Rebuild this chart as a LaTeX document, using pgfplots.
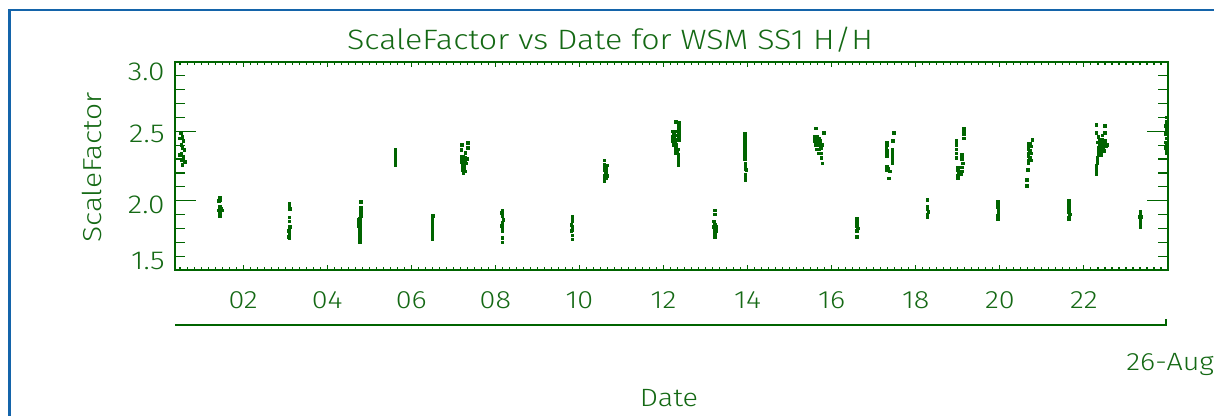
\documentclass[border=0pt]{standalone}
\usepackage{fontspec}
\setmainfont{Fira Sans}[UprightFont=* Light, FakeStretch=1.15]
\usepackage{pgfplots}
\pgfplotsset{compat=1.18}
\definecolor{idlgreen}{RGB}{0,100,0}
\definecolor{txtgreen}{RGB}{20,105,20}
\definecolor{frameblue}{RGB}{20,100,170}
\begin{document}
\begin{tikzpicture}[x=0.5pt,y=0.5pt]
\path[use as bounding box] (0,0) rectangle (1214,416);
\fill[white] (0,0) rectangle (1214,416);
\draw[frameblue, line width=1.25pt] (9.5,0) -- (9.5,406) -- (1214,406);

% x ticks and labels
\begin{axis}[
  at={(87.5pt,73pt)}, anchor=south west,
  scale only axis, width=496.5pt, height=104pt,
  xmin=0.38, xmax=24, ymin=1.5, ymax=3.0,
  axis line style={draw=none},
  ytick=\empty,
  xtick={2,4,...,24},
  xticklabels={02,04,06,08,10,12,14,16,18,20,22,{}},
  minor xtick={0.5,0.666667,...,24},
  major tick length=2.6pt, minor tick length=1.5pt,
  tick style={idlgreen, line width=0.55pt},
  xticklabel style={anchor=center, yshift=-15pt, font=\fontsize{12.5}{14}\selectfont, text=txtgreen},
]
\end{axis}

\begin{axis}[
  at={(87.5pt,73pt)}, anchor=south west,
  scale only axis, width=496.5pt, height=104pt,
  xmin=0.38, xmax=24, ymin=1.5, ymax=3.0,
  axis line style={idlgreen, line width=1pt},
  xtick=\empty,
  ytick={1.5,2.0,2.5,3.0}, minor y tick num=4,
  yticklabels={},
  major tick length=10.5pt, minor tick length=5pt,
  tick style={idlgreen, line width=0.6pt},
]
\addplot[only marks, mark=square*, mark size=0.65pt, idlgreen, mark options={draw=none, fill=idlgreen}] coordinates {
(0.52,2.49)(0.56,2.46)(0.58,2.43)(0.53,2.40)(0.56,2.38)(0.60,2.365)(0.53,2.34)(0.58,2.32)(0.54,2.29)(0.61,2.28)(0.56,2.26)(0.50,2.45)(0.50,2.33)
(1.45,2.02)(1.45,2.005)(1.43,2.00)(1.45,1.96)(1.45,1.95)(1.47,1.94)(1.43,1.93)(1.45,1.93)(1.49,1.93)(1.45,1.92)(1.45,1.91)(1.45,1.90)(1.45,1.89)
(3.10,1.98)(3.10,1.96)(3.10,1.95)(3.12,1.94)(3.10,1.88)(3.10,1.85)(3.12,1.81)(3.10,1.80)(3.10,1.79)(3.08,1.78)(3.10,1.77)(3.10,1.76)(3.10,1.75)(3.08,1.74)(3.10,1.73)
(4.80,1.99)(4.80,1.95)(4.80,1.93)(4.80,1.91)(4.80,1.89)(4.78,1.87)(4.76,1.86)(4.78,1.85)(4.76,1.84)(4.78,1.83)(4.76,1.82)(4.78,1.81)(4.78,1.79)(4.78,1.77)(4.78,1.75)(4.78,1.73)(4.78,1.71)(4.78,1.70)
(5.62,2.365)(5.62,2.345)(5.62,2.32)(5.62,2.30)(5.62,2.28)(5.62,2.26)
(6.52,1.89)(6.50,1.87)(6.50,1.85)(6.50,1.83)(6.50,1.81)(6.50,1.79)(6.50,1.77)(6.50,1.75)(6.50,1.73)(6.50,1.72)
(7.21,2.40)(7.34,2.415)(7.19,2.365)(7.34,2.38)(7.29,2.345)(7.20,2.32)(7.24,2.32)(7.20,2.30)(7.24,2.30)(7.28,2.31)(7.32,2.30)(7.20,2.28)(7.24,2.28)(7.28,2.28)(7.22,2.26)(7.26,2.26)(7.30,2.27)(7.22,2.24)(7.26,2.24)(7.22,2.22)(7.26,2.22)(7.24,2.20)(7.28,2.21)
(8.17,1.93)(8.15,1.91)(8.17,1.89)(8.19,1.86)(8.17,1.84)(8.15,1.82)(8.17,1.80)(8.17,1.78)(8.17,1.73)(8.17,1.70)
(9.83,1.885)(9.83,1.87)(9.83,1.85)(9.81,1.825)(9.83,1.81)(9.83,1.79)(9.81,1.78)(9.83,1.75)(9.83,1.72)
(10.59,2.29)(10.59,2.26)(10.65,2.255)(10.59,2.24)(10.63,2.23)(10.59,2.22)(10.63,2.20)(10.61,2.18)(10.65,2.18)(10.59,2.16)(10.63,2.16)(10.59,2.14)
(12.30,2.57)(12.36,2.56)(12.37,2.54)(12.37,2.52)(12.37,2.50)(12.37,2.48)(12.37,2.46)(12.37,2.44)(12.22,2.50)(12.27,2.50)(12.24,2.48)(12.28,2.47)(12.22,2.46)(12.26,2.45)(12.30,2.44)(12.22,2.43)(12.27,2.42)(12.24,2.40)(12.30,2.40)(12.30,2.38)(12.34,2.37)(12.28,2.36)(12.33,2.35)(12.30,2.34)(12.35,2.33)(12.35,2.31)(12.35,2.29)(12.35,2.27)(12.35,2.26)
(13.93,2.48)(13.93,2.46)(13.93,2.44)(13.93,2.42)(13.93,2.40)(13.93,2.38)(13.93,2.36)(13.93,2.34)(13.93,2.32)(13.93,2.30)(13.95,2.27)(13.95,2.25)(13.95,2.23)(13.97,2.22)(13.95,2.19)(13.95,2.17)(13.95,2.15)
(13.22,1.93)(13.22,1.90)(13.20,1.85)(13.22,1.83)(13.24,1.81)(13.20,1.81)(13.22,1.79)(13.24,1.78)(13.22,1.76)(13.22,1.74)
(15.62,2.52)(15.81,2.49)(15.60,2.46)(15.65,2.46)(15.70,2.45)(15.60,2.43)(15.65,2.43)(15.72,2.43)(15.62,2.40)(15.67,2.40)(15.72,2.40)(15.77,2.40)(15.65,2.37)(15.70,2.37)(15.75,2.38)(15.70,2.34)(15.75,2.34)(15.76,2.31)(15.78,2.27)
(16.60,1.87)(16.60,1.84)(16.60,1.82)(16.62,1.80)(16.60,1.78)(16.60,1.74)
(17.48,2.49)(17.46,2.43)(17.32,2.42)(17.32,2.40)(17.30,2.38)(17.32,2.36)(17.32,2.34)(17.32,2.32)(17.44,2.37)(17.44,2.35)(17.44,2.33)(17.44,2.31)(17.44,2.29)(17.44,2.27)(17.32,2.245)(17.35,2.23)(17.30,2.22)(17.38,2.21)(17.36,2.16)
(18.28,2.005)(18.28,1.96)(18.28,1.94)(18.30,1.92)(18.28,1.90)(18.28,1.88)
(19.14,2.52)(19.14,2.50)(19.16,2.50)(19.14,2.48)(19.14,2.45)(18.97,2.43)(18.97,2.40)(18.97,2.37)(18.97,2.34)(18.97,2.31)(19.10,2.33)(19.10,2.30)(19.12,2.27)(19.10,2.24)(19.10,2.21)(19.08,2.19)(19.00,2.24)(19.00,2.22)(19.02,2.20)(19.00,2.18)(19.00,2.16)
(19.95,1.99)(19.95,1.97)(19.95,1.95)(19.97,1.93)(19.97,1.91)(19.95,1.89)(19.95,1.87)
(20.77,2.44)(20.68,2.41)(20.72,2.41)(20.68,2.39)(20.74,2.39)(20.68,2.37)(20.72,2.36)(20.68,2.34)(20.74,2.34)(20.68,2.32)(20.72,2.31)(20.68,2.29)(20.74,2.29)(20.68,2.27)(20.66,2.22)(20.64,2.15)(20.64,2.105)
(21.64,2.00)(21.64,1.98)(21.64,1.96)(21.64,1.94)(21.64,1.92)(21.66,1.90)(21.64,1.88)(21.64,1.87)
(22.30,2.545)(22.50,2.54)(22.30,2.49)(22.50,2.49)(22.34,2.46)(22.44,2.47)(22.38,2.44)(22.44,2.44)(22.50,2.43)(22.32,2.42)(22.38,2.41)(22.44,2.41)(22.50,2.40)(22.56,2.40)(22.34,2.38)(22.40,2.38)(22.46,2.38)(22.52,2.39)(22.36,2.35)(22.42,2.36)(22.48,2.36)(22.34,2.33)(22.40,2.33)(22.32,2.31)(22.32,2.29)(22.32,2.27)(22.30,2.25)(22.30,2.23)(22.30,2.21)(22.30,2.19)
(23.34,1.92)(23.34,1.90)(23.32,1.885)(23.36,1.885)(23.34,1.87)(23.34,1.85)(23.34,1.83)(23.34,1.81)
(23.96,2.60)(23.96,2.57)(23.94,2.54)(23.96,2.51)(23.94,2.48)(23.96,2.45)(23.94,2.42)(23.96,2.40)(23.94,2.38)(23.96,2.36)(23.96,2.34)
};
\end{axis}

% y tick labels
\begin{scope}[every node/.style={anchor=east, inner sep=0pt, text=txtgreen, font=\fontsize{13}{14}\selectfont}]
\node at (165,344.5) {3.0};
\node at (165,282.5) {2.5};
\node at (165,211) {2.0};
\node at (165,154.5) {1.5};
\end{scope}
% date axis line
\draw[idlgreen, line width=0.8pt] (175,91) -- (1166,91) -- (1166,97);
% texts
\node[text=txtgreen, font=\fontsize{14}{16}\selectfont] at (610,376) {ScaleFactor vs Date for WSM SS1 H/H};
\node[text=txtgreen, font=\fontsize{13}{15}\selectfont, rotate=90] at (92,248.5) {ScaleFactor};
\node[text=txtgreen, font=\fontsize{12.5}{14}\selectfont] at (669,18) {Date};
\node[text=txtgreen, font=\fontsize{12.5}{14}\selectfont, anchor=west, inner sep=0pt] at (1126,51) {26-Aug};
\end{tikzpicture}
\end{document}
